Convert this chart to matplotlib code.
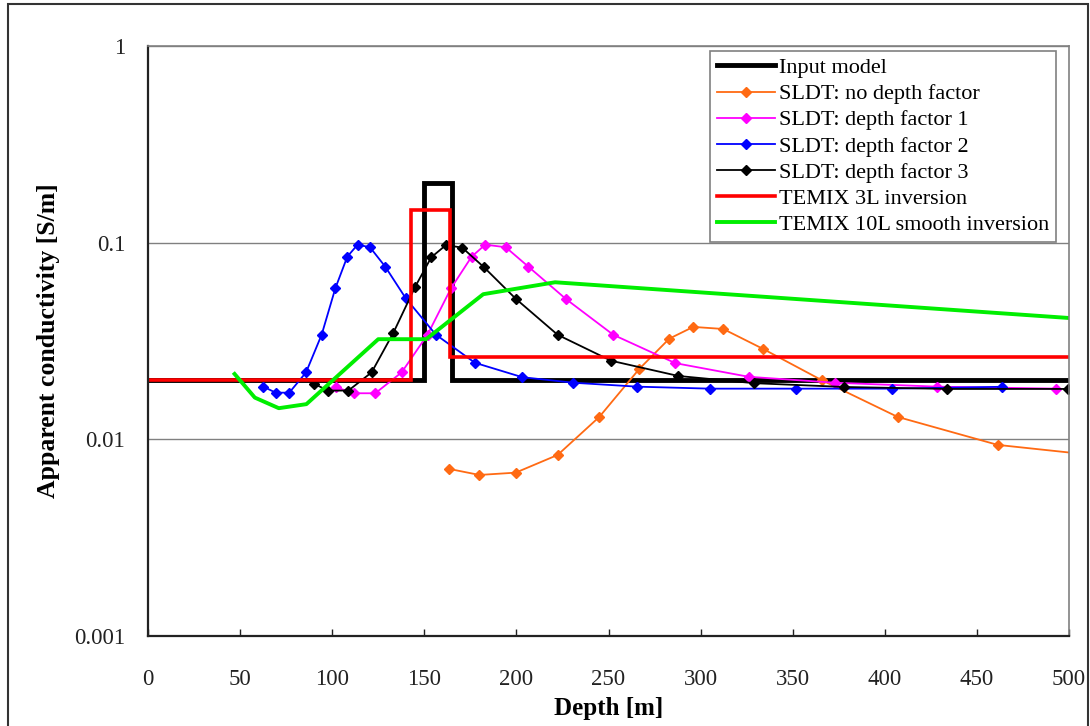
import numpy as np
from matplotlib import pyplot as plt
from matplotlib.patches import Rectangle

# input model (layered): boundaries and conductivities
model_depth = [0, 150, 150, 165, 165, 500]
model_cond = [0.02, 0.02, 0.2, 0.2, 0.02, 0.02]

# TEMIX 3 layer inversion
t3_depth = [0, 143, 143, 164, 164, 500]
t3_cond = [0.02, 0.02, 0.146, 0.146, 0.0263, 0.0263]

# TEMIX 10 layer smooth inversion
t10_depth = [47, 58, 71, 86, 125, 151, 182, 221, 500]
t10_cond = [0.0215, 0.0163, 0.0144, 0.0151, 0.0323, 0.0323, 0.0547, 0.0629, 0.0414]

# SLDT no depth factor
sl0_depth = [163.6, 179.9, 199.6, 222.4, 245, 266.7, 283, 296, 312.3, 334, 365.9, 407, 461.3, 530]
sl0_cond = [0.00707, 0.00659, 0.00677, 0.00833, 0.0130, 0.0228, 0.0325, 0.0373, 0.0364,
            0.0288, 0.01996, 0.0130, 0.00937, 0.0080]

# SLDT depth factor 1
sl1_depth = [102.1, 111.8, 123.4, 137.7, 151.8, 164.5, 175.7, 183.1, 194.2, 206.5,
             226.9, 252.6, 286.3, 326.1, 372.9, 428.5, 492.9]
sl1_cond = [0.0184, 0.01715, 0.01715, 0.0219, 0.0341, 0.0586, 0.0849, 0.0977, 0.0948, 0.0755,
            0.0517, 0.034, 0.0244, 0.0208, 0.0194, 0.01853, 0.0181]

# SLDT depth factor 2
sl2_depth = [62.6, 69.3, 76.7, 85.8, 94.3, 101.7, 108.2, 113.8, 120.5, 128.8, 139.9,
             156.2, 177.5, 203.2, 230.9, 265.6, 305.1, 351.8, 403.7, 463.5]
sl2_cond = [0.01853, 0.01727, 0.01727, 0.0219, 0.0341, 0.0586, 0.0849, 0.0977, 0.0948, 0.0755,
            0.0522, 0.0341, 0.0245, 0.0207, 0.0194, 0.01853, 0.0181, 0.0181, 0.0181, 0.0185]

# SLDT depth factor 3
sl3_depth = [90.1, 97.5, 108.8, 121.4, 133.2, 145.1, 153.8, 161.8, 170.6, 182.4, 199.6,
             222.4, 251.4, 287.9, 329, 377.9, 433.9, 499.3]
sl3_cond = [0.0192, 0.0177, 0.0177, 0.0219, 0.0348, 0.0598, 0.0843, 0.0973, 0.0943, 0.0750,
            0.0519, 0.0340, 0.0251, 0.0210, 0.0193, 0.01846, 0.01804, 0.01804]

x_ticks = [0, 50, 100, 150, 200, 250, 300, 350, 400, 450, 500]
y_ticks = [0.001, 0.01, 0.1, 1]
y_labels = ['0.001', '0.01', '0.1', '1']

plt.rcParams['font.family'] = ['Liberation Serif', 'DejaVu Serif']

fig = plt.figure(figsize=(10.9, 7.26), dpi=100)
ax = fig.add_axes([148 / 1090, 1 - 636 / 726, 921 / 1090, 590 / 726])

mk = dict(marker='D', markersize=5.5, lw=1.3)
ax.plot(model_depth, model_cond, color='black', lw=3.5, label='Input model', solid_joinstyle='miter')
ax.plot(sl0_depth, sl0_cond, color='#ff6a13', label='SLDT: no depth factor', **mk)
ax.plot(sl1_depth, sl1_cond, color='#ff00ff', label='SLDT: depth factor 1', **mk)
ax.plot(sl2_depth, sl2_cond, color='#0000ff', label='SLDT: depth factor 2', **mk)
ax.plot(sl3_depth, sl3_cond, color='black', label='SLDT: depth factor 3', **mk)
ax.plot(t3_depth, t3_cond, color='#ff0000', lw=2.6, label='TEMIX 3L inversion', solid_joinstyle='miter')
ax.plot(t10_depth, t10_cond, color='#00ee00', lw=2.8, label='TEMIX 10L smooth inversion')

ax.set_yscale('log')
ax.set_xlim(0, 500)
ax.set_ylim(0.001, 1)
ax.set_xticks(x_ticks)
ax.set_yticks(y_ticks)
ax.set_yticklabels(y_labels)
ax.minorticks_off()
ax.tick_params(axis='x', direction='in', length=5, width=1, pad=24, labelsize=16.5, colors='#222222')
ax.tick_params(axis='y', direction='in', length=0, pad=16.5, labelsize=16.5, colors='#222222')
ax.grid(axis='y', color='#808080', lw=1)
ax.set_axisbelow(True)
for s in ['left', 'bottom']:
    ax.spines[s].set_color('#222222')
    ax.spines[s].set_linewidth(1.6)
for s in ['top', 'right']:
    ax.spines[s].set_color('#808080')
    ax.spines[s].set_linewidth(1.2)

ax.set_xlabel('Depth [m]', fontsize=18, fontweight='bold', labelpad=5)
ax.set_ylabel('Apparent conductivity [S/m]', fontsize=18.5, fontweight='bold', labelpad=10)

leg = ax.legend(loc='upper right', bbox_to_anchor=(0.986, 0.9915), borderaxespad=0,
                fontsize=16, frameon=True, fancybox=False, handlelength=2.6,
                handletextpad=0.2, labelspacing=0.25, borderpad=0.3)
leg.get_frame().set_edgecolor('#808080')
leg.get_frame().set_linewidth(1.2)
leg.get_frame().set_alpha(1)

fig.patches.append(Rectangle((8 / 1090, -0.1), 1080 / 1090, 1.1 - 4 / 726, transform=fig.transFigure,
                             fill=False, edgecolor='#333333', lw=1.5))

fig.savefig('out.png', dpi=100)
